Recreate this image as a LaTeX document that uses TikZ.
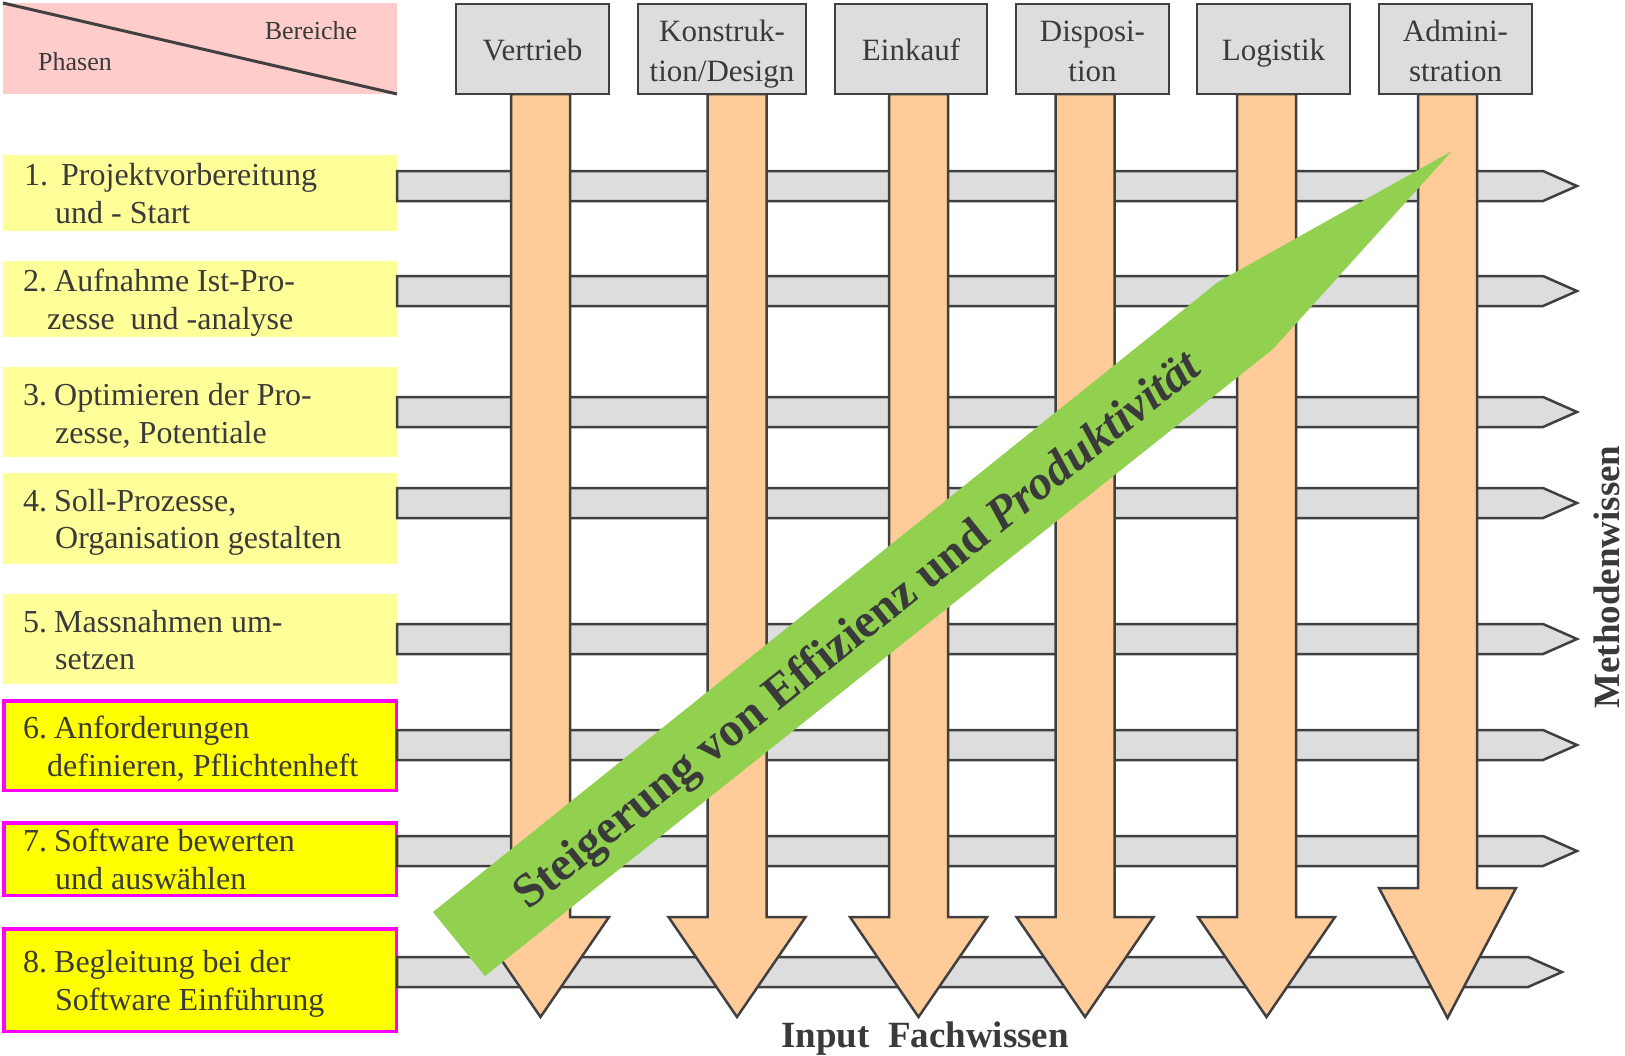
\documentclass[tikz,border=0pt]{standalone}
\usepackage{fontspec}
\setmainfont{Liberation Serif}
\definecolor{ln}{HTML}{404040}
\definecolor{txt}{HTML}{3A3A3A}
\definecolor{barc}{HTML}{DDDDDD}
\definecolor{orng}{HTML}{FFCC99}
\definecolor{grn}{HTML}{92D050}
\definecolor{pale}{HTML}{FFFF99}
\definecolor{yel}{HTML}{FFFF00}
\definecolor{mag}{HTML}{FF00FF}
\definecolor{pnk}{HTML}{FFCCCC}
\begin{document}
\begin{tikzpicture}[x=1pt,y=-1pt,line join=miter,
  bar/.style={draw=ln,fill=barc,line width=2.5pt},
  farrow/.style={draw=ln,fill=orng,line width=2.5pt},
  hdr/.style={draw=ln,fill=barc,line width=2.5pt,inner sep=0pt,minimum height=90pt},
  htxt/.style={anchor=base,inner sep=0pt,text=txt,font=\fontsize{31}{38}\selectfont},
  phase/.style={fill=pale,inner sep=0pt,minimum width=394pt},
  phasehi/.style={fill=yel,draw=mag,line width=3.5pt,inner sep=0pt,minimum width=392.5pt},
  ptxt/.style={anchor=base west,inner sep=0pt,text=txt,font=\fontsize{32}{38}\selectfont},
  small/.style={inner sep=0pt,text=txt,font=\fontsize{26}{30}\selectfont},
  lbl/.style={text=txt,inner sep=0pt,font=\fontsize{37}{40}\selectfont\bfseries}
]
\useasboundingbox (0,0) rectangle (1625,1055);

% header corner
\fill[pnk] (3,3) rectangle (397,94);
\draw[ln,line width=3pt] (3,3) -- (397,94);
\node[small] (ber) at (311,31) {Bereiche};
\node[small] (pha) at (75,62) {Phasen};

% phase boxes
\node[phase,minimum height=76pt] (p1) at (200,193) {};
\node[phase,minimum height=76pt] (p2) at (200,299) {};
\node[phase,minimum height=90pt] (p3) at (200,412) {};
\node[phase,minimum height=91pt] (p4) at (200,518.5) {};
\node[phase,minimum height=90pt] (p5) at (200,639) {};
\node[phasehi,minimum height=89.5pt] (p6) at (200,745.5) {};
\node[phasehi,minimum height=72.5pt] (p7) at (200,859) {};
\node[phasehi,minimum height=102.5pt] (p8) at (200,980) {};

\node[ptxt] (p1a) at (24,185) {\makebox[37pt][l]{1.}Projektvorbereitung};
\node[ptxt] (p1b) at (55,223) {und - Start};
\node[ptxt] (p2a) at (23,291) {\makebox[31pt][l]{2.}Aufnahme Ist-Pro-};
\node[ptxt] (p2b) at (47,329) {zesse\ \ und -analyse};
\node[ptxt] (p3a) at (23,405) {\makebox[31pt][l]{3.}Optimieren der Pro-};
\node[ptxt] (p3b) at (55,443) {zesse, Potentiale};
\node[ptxt] (p4a) at (23,511) {\makebox[31pt][l]{4.}Soll-Prozesse,};
\node[ptxt] (p4b) at (55,548) {Organisation gestalten};
\node[ptxt] (p5a) at (23,632) {\makebox[31pt][l]{5.}Massnahmen um-};
\node[ptxt] (p5b) at (55,669) {setzen};
\node[ptxt] (p6a) at (23,738) {\makebox[31pt][l]{6.}Anforderungen};
\node[ptxt] (p6b) at (47,776) {definieren, Pflichtenheft};
\node[ptxt] (p7a) at (23,851) {\makebox[31pt][l]{7.}Software bewerten};
\node[ptxt] (p7b) at (55,889) {und auswählen};
\node[ptxt] (p8a) at (23,972) {\makebox[31pt][l]{8.}Begleitung bei der};
\node[ptxt] (p8b) at (55,1010) {Software Einführung};

% horizontal bars (Methodenwissen)
\foreach \y/\e in {186/1543,291/1543,412/1543,503/1543,639/1543,745/1543,851/1543,972/1528}
  \draw[bar] (397,\y-15) -- (\e,\y-15) -- (\e+34,\y) -- (\e,\y+15) -- (397,\y+15) -- cycle;

% vertical arrows (Fachwissen)
\foreach \c/\t/\p in {540.5/917/1017,737/917/1017,918.5/917/1017,1085/917/1017,1266.5/917/1017,1447.5/888/1018}
  \draw[farrow] (\c-29.5,94) -- (\c-29.5,\t) -- (\c-68.5,\t) -- (\c,\p) -- (\c+68.5,\t) -- (\c+29.5,\t) -- (\c+29.5,94) -- cycle;

% column headers
\node[hdr,minimum width=153pt] (vt) at (532.5,49) {};
\node[hdr,minimum width=168pt] (ko) at (722,49) {};
\node[hdr,minimum width=152pt] (ek) at (911,49) {};
\node[hdr,minimum width=153pt] (di) at (1092.5,49) {};
\node[hdr,minimum width=153pt] (lo) at (1273.5,49) {};
\node[hdr,minimum width=153pt] (ad) at (1455.5,49) {};
\node[htxt] (vtt) at (532.5,60) {Vertrieb};
\node[htxt] (kot1) at (722,41.5) {Konstruk-};
\node[htxt] (kot2) at (722,81) {tion/Design};
\node[htxt] (ekt) at (911,60) {Einkauf};
\node[htxt] (dit1) at (1092.5,41.5) {Disposi-};
\node[htxt] (dit2) at (1092.5,81) {tion};
\node[htxt] (lot) at (1273.5,60) {Logistik};
\node[htxt] (adt1) at (1455.5,41.5) {Admini-};
\node[htxt] (adt2) at (1455.5,81) {stration};

% green arrow
\fill[grn] (433,912) -- (485,976) -- (1273,349) -- (1452,151) -- (1218,282) -- cycle;
\node[rotate=38.6,text=txt,inner sep=0pt,font=\fontsize{48}{50}\selectfont\bfseries] (st) at (859,632) {Steigerung von Effizienz und \textit{Produktivität}};

% axis labels
\node[lbl] (inp) at (925,1039) {Input\ \ Fachwissen};
\node[lbl,rotate=90] (mw) at (1607,577) {Methodenwissen};
\end{tikzpicture}
\end{document}
